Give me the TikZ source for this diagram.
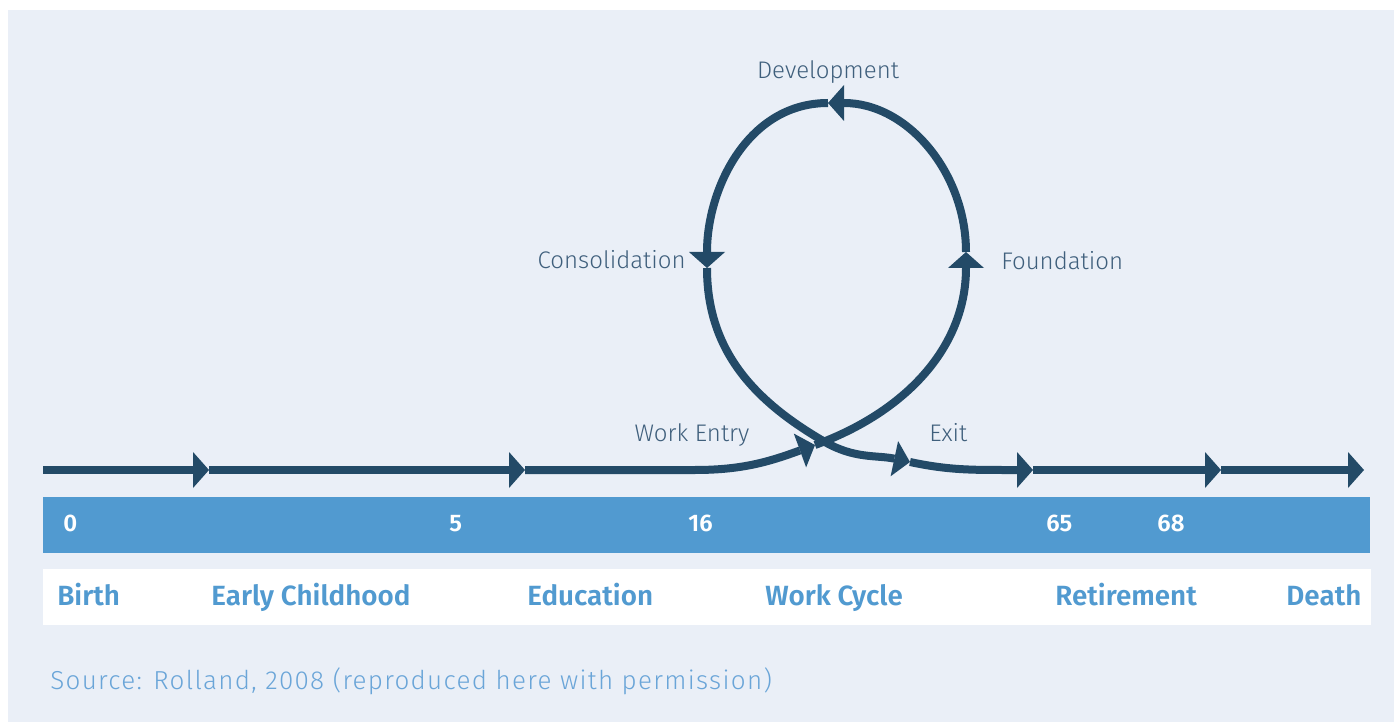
\documentclass[tikz,border=0pt]{standalone}
\usepackage{fontspec}
\setmainfont{Fira Sans}[UprightFont=* Light, BoldFont=* SemiBold]
\newfontfamily\srcfont{Fira Sans}[UprightFont=* Light, LetterSpace=5]
\usetikzlibrary{arrows.meta}

\definecolor{paper}{HTML}{EAEFF7}
\definecolor{navy}{HTML}{234A67}
\definecolor{barblue}{HTML}{519AD0}
\definecolor{slate}{HTML}{3F5F7C}
\definecolor{srcblue}{HTML}{6AA5D8}

\tikzset{
  life/.style={draw=navy, line width=4pt, -{Triangle[length=8pt,width=18pt,line width=0pt]}},
  stage/.style={font=\bfseries\fontsize{13.9}{16}\selectfont, text=barblue, anchor=base west, inner sep=0pt},
  age/.style={font=\bfseries\fontsize{12}{14}\selectfont, text=white, anchor=base west, inner sep=0pt},
  phase/.style={font=\fontsize{12}{14}\selectfont, text=slate, inner sep=0pt},
}

\begin{document}
\begin{tikzpicture}[x=0.5pt,y=-0.5pt]
    \useasboundingbox (0,0) rectangle (1394,722);
    \fill[white] (0,0) rectangle (1394,722);
    \fill[paper] (8,10) rectangle (1394,722);

    % age bar and stage strip
    \fill[barblue] (43,497) rectangle (1370,553);
    \fill[white] (43,569) rectangle (1371,625);

    % points on the life line
    \coordinate (birth) at (43,470);
    \coordinate (t1) at (209,470);
    \coordinate (t2) at (525,470);
    \coordinate (bend) at (695,470);
    \coordinate (entry) at (815,445);
    \coordinate (found) at (966,252);
    \coordinate (devel) at (828,103);
    \coordinate (consol) at (707,268);
    \coordinate (cross) at (825,442);
    \coordinate (exit) at (910,462);
    \coordinate (flat) at (1010,470);
    \coordinate (t3) at (1033,470);
    \coordinate (t4) at (1221,470);
    \coordinate (death) at (1364,470);

    \draw[life] (birth) -- (t1);
    \draw[life] (t1) -- (t2);
    \draw[life] (t2) -- (bend) to[out=0,in=200] (entry);
    \draw[life] (entry) to[out=20,in=-90] (found);
    \draw[life] (found) to[out=90,in=0] (devel);
    \draw[life] (devel) to[out=180,in=90] (consol);
    \draw[life] (consol) to[out=-90,in=150] (cross) to[out=-30,in=168] (exit);
    \draw[life] (exit) to[out=-12,in=180] (flat) -- (t3);
    \draw[life] (t3) -- (t4);
    \draw[life] (t4) -- (death);

    % loop labels
    \node[phase, anchor=base] (development) at (828,79) {Development};
    \node[phase, anchor=base east] (consolidation) at (686,269) {Consolidation};
    \node[phase, anchor=base west] (foundation) at (1001,270) {Foundation};
    \node[phase, anchor=base] (workentry) at (692,441) {Work Entry};
    \node[phase, anchor=base west] (exitlabel) at (929,441) {Exit};

    % ages
    \node[age] (a0) at (63,531) {0};
    \node[age] (a5) at (449,531) {5};
    \node[age] (a16) at (688,531) {16};
    \node[age] (a65) at (1046,531) {65};
    \node[age] (a68) at (1157,531) {68};

    % stages
    \node[stage] (s1) at (57,605) {Birth};
    \node[stage] (s2) at (211,605) {Early Childhood};
    \node[stage] (s3) at (527,605) {Education};
    \node[stage] (s4) at (765,605) {Work Cycle};
    \node[stage] (s5) at (1055,605) {Retirement};
    \node[stage] (s6) at (1286,605) {Death};

    \node[anchor=base west, inner sep=0pt, text=srcblue, font=\srcfont\fontsize{13}{15}\selectfont] (source) at (50,689) {Source: Rolland, 2008 (reproduced here with permission)};
\end{tikzpicture}
\end{document}
